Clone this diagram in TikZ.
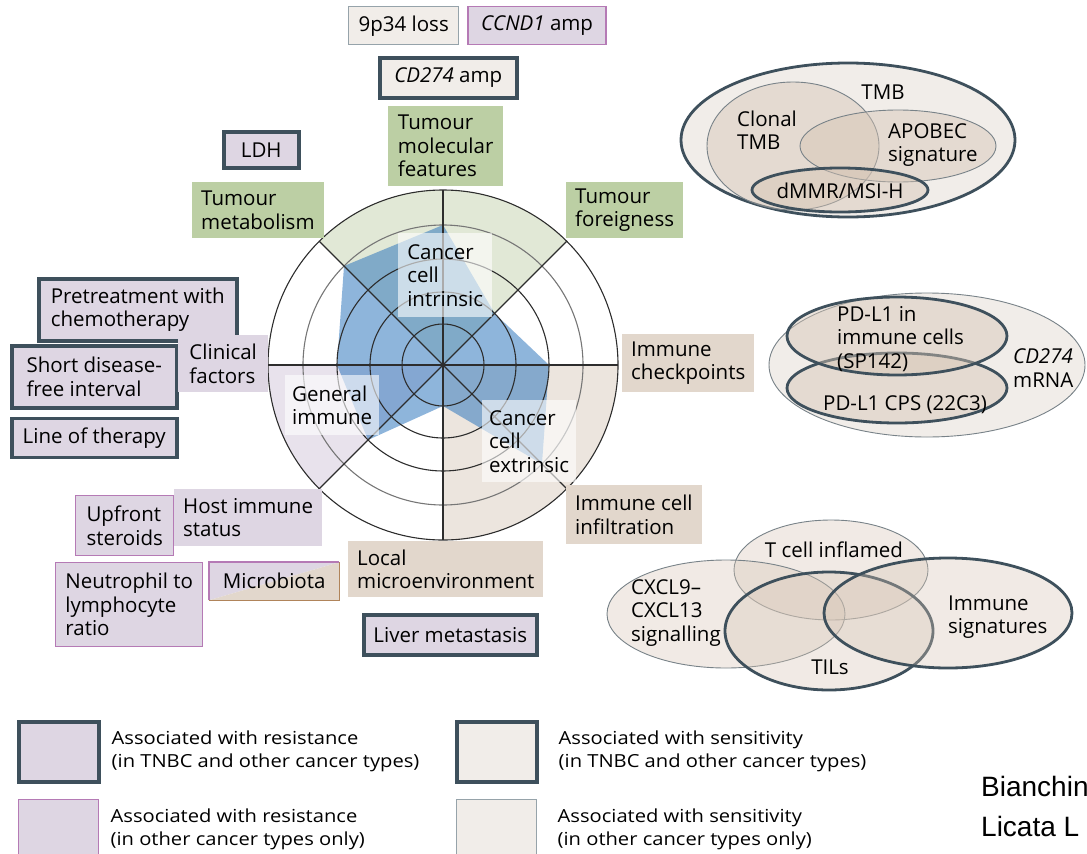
\documentclass[tikz,border=0pt]{standalone}
\usepackage{fontspec}
\setmainfont{Open Sans}
\newfontfamily\legendfont[FakeStretch=1.12]{Open Sans}
\newfontfamily\citefont{Liberation Sans}
\usetikzlibrary{positioning}
\definecolor{tnbcdark}{RGB}{62,80,92}
\definecolor{respurple}{RGB}{222,214,227}
\definecolor{resedge}{RGB}{181,122,181}
\definecolor{sensbeige}{RGB}{241,237,233}
\definecolor{sensedge}{RGB}{150,163,170}
\definecolor{tumgreen}{RGB}{188,207,164}
\definecolor{envbeige}{RGB}{226,215,204}
\definecolor{microedge}{RGB}{176,132,90}
\definecolor{bandgreen}{RGB}{225,232,214}
\definecolor{bandpurple}{RGB}{232,226,236}
\definecolor{bandbeige}{RGB}{236,229,222}
\definecolor{radarblue}{RGB}{50,120,190}
\definecolor{ringgray}{RGB}{45,45,45}
\definecolor{ellgray}{RGB}{120,130,136}
\definecolor{ellfill}{RGB}{214,196,180}

\begin{document}
\begin{tikzpicture}[x=1pt,y=-1pt,font=\fontsize{20.5}{23.5}\selectfont,
 box/.style={anchor=north west,align=left,inner xsep=9pt,inner ysep=3pt},
 resT/.style={box,draw=tnbcdark,line width=3.5pt,fill=respurple},
 resO/.style={box,draw=resedge,line width=1.4pt,fill=respurple},
 sensT/.style={box,draw=tnbcdark,line width=3.5pt,fill=sensbeige},
 sensO/.style={box,draw=sensedge,line width=1.4pt,fill=sensbeige},
 tum/.style={box,fill=tumgreen},
 host/.style={box,fill=respurple},
 env/.style={box,fill=envbeige},
 axis/.style={anchor=north west,align=left,fill=white,fill opacity=.6,
  text opacity=1,inner xsep=7pt,inner ysep=3pt},
 ring/.style={draw=ringgray,line width=1.1pt},
 thinell/.style={draw=ellgray,line width=.9pt,fill=ellfill,fill opacity=.35},
 thickell/.style={draw=tnbcdark,line width=2.8pt,fill=ellfill,fill opacity=.35},
 legtxt/.style={align=left,inner sep=0pt,font=\legendfont\fontsize{18}{23}\selectfont}]
\useasboundingbox (0,0) rectangle (1087,854);

% radar
\begin{scope}[shift={(443,365)},yscale=-1]
\fill[bandgreen] (0,0) -- (45:175) arc[start angle=45,end angle=135,radius=175] -- cycle;
\fill[bandpurple] (0,0) -- (180:175) arc[start angle=180,end angle=225,radius=175] -- cycle;
\fill[bandbeige] (0,0) -- (270:175) arc[start angle=270,end angle=360,radius=175] -- cycle;
\fill[radarblue,fill opacity=.55] (90:140) -- (135:140) -- (180:106) -- (225:106)
 -- (270:41) -- (315:140) -- (0:106) -- (45:73) -- cycle;
\foreach \r in {41,73,106,175}
 \draw[ring] (0,0) circle[radius=\r];
\draw[ring,draw=ringgray!65] (0,0) circle[radius=140];
\foreach \a in {0,45,90,135}
 \draw[ring] (\a:175) -- (\a+180:175);
\end{scope}
\node[axis,minimum width=94pt,minimum height=84pt] (intr) at (398,233) {Cancer\\cell\\intrinsic};
\node[axis,minimum width=92pt,minimum height=60pt] (gen) at (285,375) {General\\immune};
\node[axis,minimum width=93pt,minimum height=82pt] (extr) at (482,400) {Cancer\\cell\\extrinsic};

% factor labels
\node[sensO,minimum width=110pt,minimum height=38pt] (p934) at (348,6) {9p34 loss};
\node[resO,minimum width=138pt,minimum height=38pt,right=8pt of p934] (ccnd) {\textit{CCND1} amp};
\node[sensT,minimum width=137pt,minimum height=40pt] (cd274) at (378,56) {\textit{CD274} amp};
\node[resT,minimum width=75pt,minimum height=36pt] (ldh) at (222,130) {LDH};
\node[tum,minimum width=115pt,minimum height=80pt] (molec) at (388,106) {Tumour\\molecular\\features};
\node[tum,minimum width=128pt,minimum height=56pt] (metab) at (192,182) {Tumour\\metabolism};
\node[tum,minimum width=116pt,minimum height=56pt] (foreig) at (566,182) {Tumour\\foreigness};
\node[resT,minimum width=198pt,minimum height=62pt] (pretr) at (37,277) {Pretreatment with\\chemotherapy};
\node[resT,minimum width=165pt,minimum height=62pt] (short) at (10,344) {Short disease-\\free interval};
\node[resT,minimum width=165pt,minimum height=39pt,below=7pt of short] (line) {Line of therapy};
\node[host,minimum width=90pt,minimum height=57pt] (clin) at (178,335) {Clinical\\factors};
\node[env,minimum width=131pt,minimum height=58pt] (chk) at (622,334) {Immune\\checkpoints};
\node[env,minimum width=135pt,minimum height=59pt] (infil) at (566,485) {Immune cell\\infiltration};
\node[host,minimum width=146pt,minimum height=57pt] (host) at (174,489) {Host immune\\status};
\node[resO,minimum width=98pt,minimum height=60pt] (upfr) at (75,495) {Upfront\\steroids};
\node[resO,minimum width=147pt,minimum height=84pt] (neut) at (55,562) {Neutrophil to\\lymphocyte\\ratio};
\node[box,minimum width=130pt,minimum height=38pt,
 path picture={
  \fill[respurple] (path picture bounding box.south west) -- (path picture bounding box.north west)
   -- (path picture bounding box.north east) -- cycle;
  \fill[envbeige] (path picture bounding box.south west) -- (path picture bounding box.south east)
   -- (path picture bounding box.north east) -- cycle;}] (micro) at (209,562) {Microbiota};
\draw[resedge,line width=1.4pt] (micro.south west) -- (micro.north west) -- (micro.north east);
\draw[microedge,line width=1.4pt] (micro.north east) -- (micro.south east) -- (micro.south west);
\node[env,minimum width=192pt,minimum height=56pt] (local) at (348,541) {Local\\microenvironment};
\node[resT,minimum width=173pt,minimum height=40pt] (liver) at (362,613) {Liver metastasis};

% TMB group
\draw[draw=tnbcdark,line width=2.8pt,fill=sensbeige] (848,140) ellipse[x radius=167,y radius=77];
\draw[thinell,fill opacity=.45] (793,146) ellipse[x radius=86,y radius=64];
\draw[thinell,fill opacity=.45] (898,146) ellipse[x radius=98,y radius=36];
\draw[thickell,fill opacity=.45] (840,190) ellipse[x radius=88,y radius=22];
\node (tmb) at (883,92) {TMB};
\node[anchor=west,align=left,inner sep=0pt] (clonal) at (737,130) {Clonal\\TMB};
\node[anchor=west,align=left,inner sep=0pt] (apobec) at (888,145) {APOBEC\\signature};
\node (dmmr) at (840,191) {dMMR/MSI-H};

% PD-L1 group
\draw[draw=ellgray,line width=.9pt,fill=sensbeige] (927,365) ellipse[x radius=158,y radius=72];
\draw[thickell,fill opacity=.45] (897,388) ellipse[x radius=110,y radius=35];
\draw[thickell,fill opacity=.45] (897,336) ellipse[x radius=110,y radius=39];
\node[anchor=west,align=left,inner sep=0pt] (sp142) at (837,339) {PD-L1 in\\immune cells\\(SP142)};
\node (cps) at (905,405) {PD-L1 CPS (22C3)};
\node[anchor=west,align=left,inner sep=0pt] (mrna) at (1013,368) {\textit{CD274}\\mRNA};

% immune Venn
\draw[thinell] (831,570) ellipse[x radius=97,y radius=50];
\draw[thinell] (726,614) ellipse[x radius=119,y radius=54];
\draw[thickell] (829,631) ellipse[x radius=104,y radius=59];
\draw[thickell] (948,613) ellipse[x radius=124,y radius=55];
\node (tcell) at (834,550) {T cell inflamed};
\node[anchor=west,align=left,inner sep=0pt] (cxcl) at (631,613) {CXCL9--\\CXCL13\\signalling};
\node (tils) at (830,667) {TILs};
\node[anchor=west,align=left,inner sep=0pt] (isig) at (948,617) {Immune\\signatures};

% legend
\node[resT,minimum width=80pt,minimum height=60pt] (legRT) at (17,720) {};
\node[resO,minimum width=80pt,minimum height=60pt,below=15pt of legRT] (legRO) {};
\node[sensT,minimum width=80pt,minimum height=60pt] (legST) at (455,720) {};
\node[sensO,minimum width=80pt,minimum height=60pt,below=15pt of legST] (legSO) {};
\node[legtxt,right=11pt of legRT] (legRTt) {Associated with resistance\\(in TNBC and other cancer types)};
\node[legtxt,right=11pt of legRO] (legROt) {Associated with resistance\\(in other cancer types only)};
\node[legtxt,right=20pt of legST] (legSTt) {Associated with sensitivity\\(in TNBC and other cancer types)};
\node[legtxt,right=20pt of legSO] (legSOt) {Associated with sensitivity\\(in other cancer types only)};

\node[anchor=north west,align=left,inner sep=0pt,font=\citefont\fontsize{28}{40}\selectfont]
 (cite) at (981,776) {Bianchin\\Licata L};
\end{tikzpicture}
\end{document}
